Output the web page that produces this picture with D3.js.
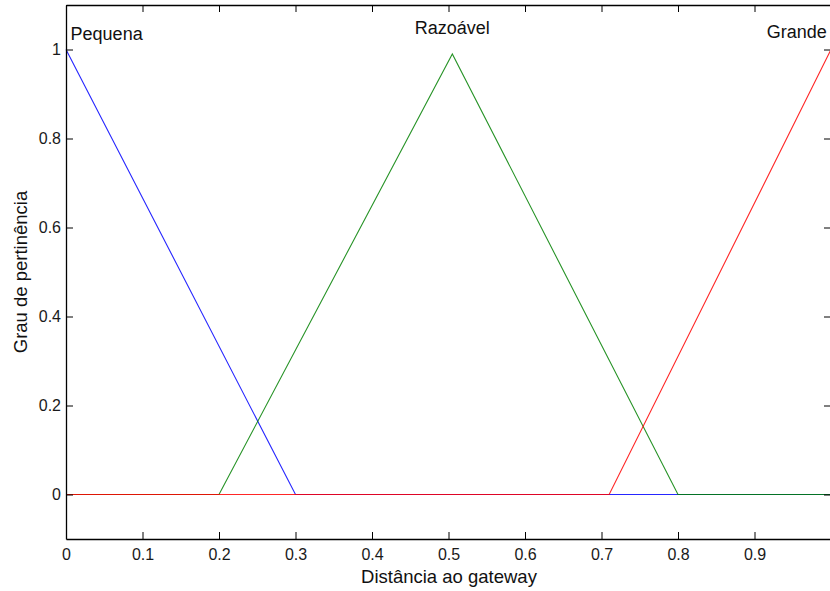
<!DOCTYPE html>
<html>
<head>
<meta charset="utf-8">
<script src="https://cdn.jsdelivr.net/npm/d3@7"></script>
<style>
  html, body { margin: 0; padding: 0; background: #fff; }
  svg { display: block; font-family: Arial, "Liberation Sans", sans-serif; }
</style>
</head>
<body>
<div id="chart"></div>
<script>
// Membership functions (breakpoints)
const pequenaX = [0, 0.3, 1];
const pequenaY = [1, 0, 0];
const razoavelX = [0, 0.2, 0.505, 0.8, 1];
const razoavelY = [0, 0, 0.99, 0, 0];
const grandeX = [0, 0.71, 1];
const grandeY = [0, 0, 1];

const seriesNames = ["Pequena", "Razoável", "Grande"];
const xTicks = [0, 0.1, 0.2, 0.3, 0.4, 0.5, 0.6, 0.7, 0.8, 0.9, 1];
const xTickLabels = ["0", "0.1", "0.2", "0.3", "0.4", "0.5", "0.6", "0.7", "0.8", "0.9", ""];
const yTicks = [0, 0.2, 0.4, 0.6, 0.8, 1];
const yTickLabels = ["0", "0.2", "0.4", "0.6", "0.8", "1"];
const xLabel = "Distância ao gateway";
const yLabel = "Grau de pertinência";

const W = 830, H = 591;
const mLeft = 66, mRight = 831, mTop = 5, mBottom = 539;

const svg = d3.select("#chart").append("svg").attr("width", W).attr("height", H);

const x = d3.scaleLinear().domain([0, 1]).range([mLeft, mRight]);
const y = d3.scaleLinear().domain([-0.1, 1.1]).range([mBottom, mTop]);

const zip = (xs, ys) => xs.map((v, i) => [v, ys[i]]);
const line = d3.line().x(d => x(d[0])).y(d => y(d[1]));

const series = [
  { name: seriesNames[0], pts: zip(pequenaX, pequenaY), color: "#0000ff" },
  { name: seriesNames[1], pts: zip(razoavelX, razoavelY), color: "#008000" },
  { name: seriesNames[2], pts: zip(grandeX, grandeY), color: "#ff0000" }
];

const plot = svg.append("g");
series.forEach(s => {
  plot.append("path")
    .datum(s.pts)
    .attr("d", line)
    .attr("fill", "none")
    .attr("stroke", s.color)
    .attr("stroke-width", 1.1)
    .attr("stroke-opacity", 0.85);
});

// Axes (MATLAB style, ticks inward, box)
const tickLen = 7;
const axBottom = d3.axisBottom(x).tickValues(xTicks).tickSize(-tickLen).tickSizeOuter(0)
  .tickPadding(10).tickFormat((d, i) => xTickLabels[i]);
const axTop = d3.axisTop(x).tickValues(xTicks).tickSize(-tickLen).tickSizeOuter(0).tickFormat("");
const axLeft = d3.axisLeft(y).tickValues(yTicks).tickSize(-tickLen).tickSizeOuter(0)
  .tickPadding(5).tickFormat((d, i) => yTickLabels[i]);
const axRight = d3.axisRight(y).tickValues(yTicks).tickSize(-tickLen).tickSizeOuter(0).tickFormat("");

function style(g) {
  g.select(".domain").attr("stroke", "#000").attr("stroke-width", 1.3);
  g.selectAll(".tick line").attr("stroke", "#000").attr("stroke-width", 1);
  g.selectAll(".tick text").attr("fill", "#1a1a1a").style("font-size", "16px")
    .style("font-family", "Arial, 'Liberation Sans', sans-serif");
}

svg.append("g").attr("transform", `translate(0,${mBottom})`).call(axBottom).call(style);
svg.append("g").attr("transform", `translate(0,${mTop})`).call(axTop).call(style);
svg.append("g").attr("transform", `translate(${mLeft},0)`).call(axLeft).call(style);
svg.append("g").attr("transform", `translate(${mRight},0)`).call(axRight).call(style);

// Series labels
const labelPos = [
  { x: 0.006, anchor: "start", base: 40 },
  { x: 0.505, anchor: "middle", base: 34 },
  { x: 0.916, anchor: "start", base: 38 }
];
seriesNames.forEach((n, i) => {
  svg.append("text")
    .attr("x", x(labelPos[i].x))
    .attr("y", labelPos[i].base)
    .attr("text-anchor", labelPos[i].anchor)
    .style("font-size", "18px")
    .attr("fill", "#111")
    .text(n);
});

// Axis labels
svg.append("text")
  .attr("x", 449)
  .attr("y", 583)
  .attr("text-anchor", "middle")
  .style("font-size", "18.5px")
  .attr("fill", "#111")
  .text(xLabel);

svg.append("text")
  .attr("transform", `translate(27,${(mTop + mBottom) / 2}) rotate(-90)`)
  .attr("text-anchor", "middle")
  .style("font-size", "18.5px")
  .attr("fill", "#111")
  .text(yLabel);
</script>
</body>
</html>
